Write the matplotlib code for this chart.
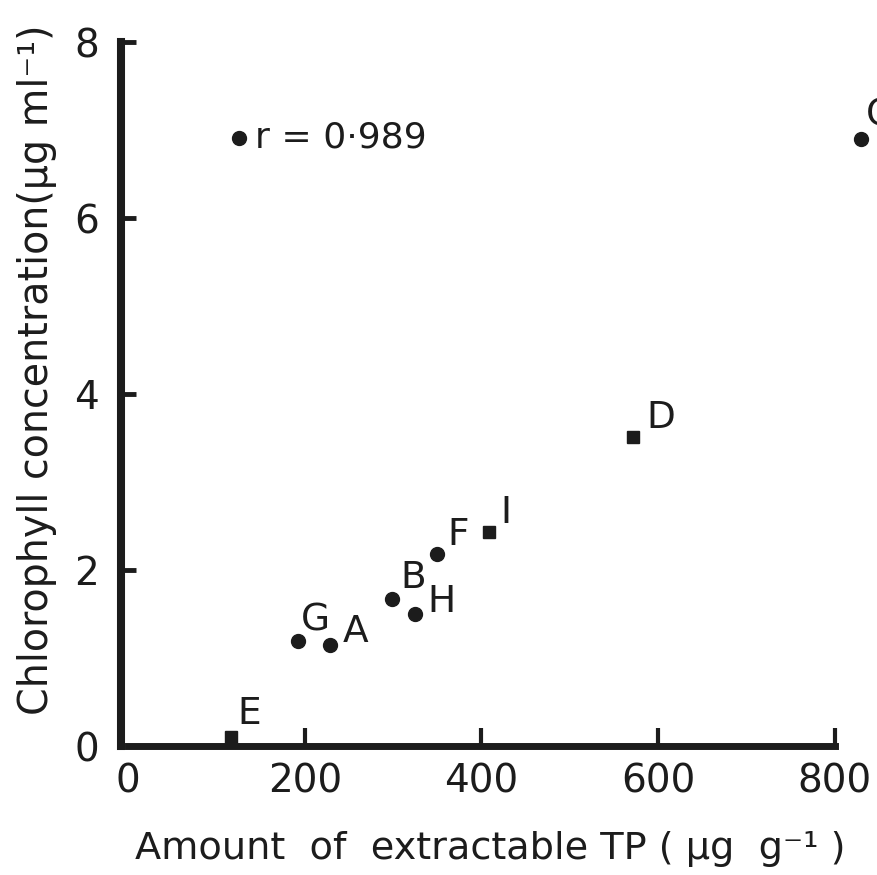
import matplotlib
matplotlib.use("Agg")
import matplotlib.pyplot as plt

# data
labels = ["E", "G", "A", "B", "H", "F", "I", "D", "C"]
tp = [116, 192, 229, 299, 325, 350, 409, 572, 829]           # extractable TP (ug g-1)
chl = [0.10, 1.19, 1.15, 1.67, 1.50, 2.18, 2.43, 3.51, 6.90]  # chlorophyll (ug ml-1)
kind = ["s", "o", "o", "o", "o", "o", "s", "s", "o"]
r_key_x, r_key_y = 126, 6.91
r_text = "r = 0·989"

# label offsets in points (layout only)
offsets = [(5, 17), (2, 15), (9, 9), (6, 15), (9, 9), (7, 14), (8, 14), (9, 14), (4, 17)]

INK = "#1c1c1c"
plt.rcParams["font.family"] = ["DejaVu Sans"]

fig = plt.figure(figsize=(8.77, 8.75), dpi=100)
ax = fig.add_axes([0.146, 0.1474, 0.806, 0.8046])

for x, y, m, lab, off in zip(tp, chl, kind, labels, offsets):
    ax.plot(x, y, marker=m, ms=10 if m == "o" else 9, color=INK, ls="none", clip_on=False)
    ax.annotate(lab, (x, y), xytext=off, textcoords="offset points", annotation_clip=False,
                fontsize=27, color=INK, ha="left", va="center")

ax.plot(r_key_x, r_key_y, "o", ms=10, color=INK)
ax.annotate(r_text, (r_key_x, r_key_y), xytext=(11, 0), textcoords="offset points",
            fontsize=26, color=INK, ha="left", va="center")

ax.set_xlim(0, 800)
ax.set_ylim(0, 8)
ax.set_xticks([0, 200, 400, 600, 800])
ax.set_yticks([0, 2, 4, 6, 8])

for s in ["top", "right"]:
    ax.spines[s].set_visible(False)
ax.spines["left"].set_linewidth(5.8)
ax.spines["left"].set_color(INK)
ax.spines["left"].set_position(("outward", 5))
ax.spines["bottom"].set_linewidth(5)
ax.spines["bottom"].set_color(INK)

ax.tick_params(axis="both", direction="in", colors=INK, labelsize=28)
ax.tick_params(axis="x", length=13, width=3, pad=12)
ax.tick_params(axis="y", length=11, width=3.5, pad=16)
ax.xaxis.get_major_ticks()[0].tick1line.set_visible(False)
ax.yaxis.get_major_ticks()[0].tick1line.set_visible(False)

ax.set_xlabel("Amount  of  extractable TP ( µg  g⁻¹ )", fontsize=27.5, color=INK, labelpad=22)
ax.set_ylabel("Chlorophyll concentration(µg ml⁻¹)", fontsize=28.5, color=INK, labelpad=12)
ax.xaxis.label.set_x(0.512)
ax.yaxis.label.set_y(0.534)

fig.savefig("out.png", dpi=100)
